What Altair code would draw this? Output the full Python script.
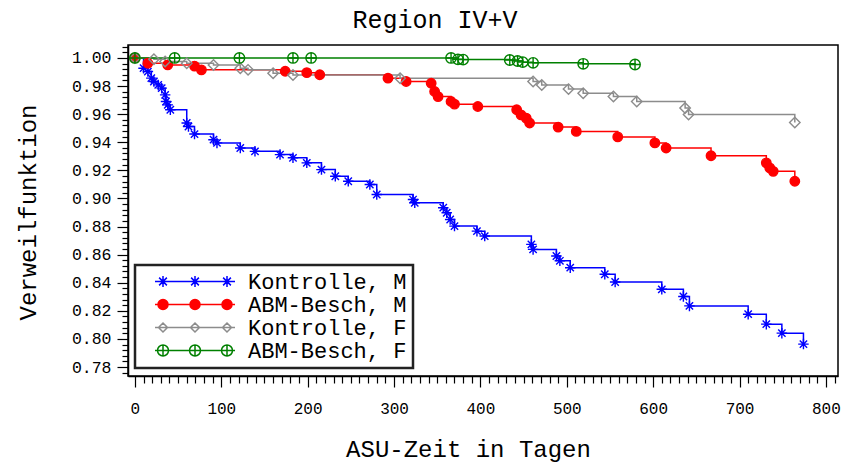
import altair as alt
import pandas as pd

# ---------------- data ----------------
series_names = ["Kontrolle, M", "ABM-Besch, M", "Kontrolle, F", "ABM-Besch, F"]
series_colors = ["#0000ff", "#ff0000", "#8c8c8c", "#008000"]
series_fills = ["transparent", "#ff0000", "transparent", "transparent"]

km_days = [0, 10, 15, 19, 22, 27, 31, 35, 36, 38, 41, 60, 62, 69, 91, 95, 122, 139,
           168, 183, 199, 216, 232, 247, 272, 280, 322, 324, 357, 361, 365, 370, 396,
           405, 459, 461, 488, 492, 504, 544, 556, 610, 635, 642, 710, 731, 749, 774]
km_surv = [1.0, 0.9927, 0.9903, 0.9856, 0.9832, 0.9808, 0.9785, 0.9737, 0.9690, 0.9666,
           0.9631, 0.9537, 0.9512, 0.9458, 0.9418, 0.9395, 0.9359, 0.9335, 0.9312, 0.9289,
           0.9253, 0.9205, 0.9158, 0.9122, 0.9099, 0.9028, 0.8992, 0.8969, 0.8934, 0.8898,
           0.8850, 0.8803, 0.8767, 0.8732, 0.8673, 0.8637, 0.8590, 0.8556, 0.8507, 0.8460,
           0.8405, 0.8353, 0.8302, 0.8235, 0.8176, 0.8105, 0.8041, 0.7963]

am_days = [0, 15, 38, 69, 77, 174, 199, 214, 293, 314, 343, 347, 351, 366, 370, 397,
           442, 447, 453, 457, 490, 511, 559, 602, 615, 667, 731, 735, 739, 764]
am_surv = [1.0, 0.9962, 0.9950, 0.9942, 0.9915, 0.9905, 0.9895, 0.9880, 0.9856, 0.9832,
           0.9820, 0.9761, 0.9725, 0.9690, 0.9671, 0.9654, 0.9631, 0.9595, 0.9572, 0.9537,
           0.9508, 0.9477, 0.9438, 0.9395, 0.9359, 0.9304, 0.9253, 0.9217, 0.9193, 0.9122]

kf_days = [0, 22, 35, 60, 91, 122, 131, 160, 183, 307, 461, 471, 502, 519, 554, 581,
           637, 641, 764]
kf_surv = [1.0, 0.9990, 0.9974, 0.9962, 0.9950, 0.9927, 0.9915, 0.9891, 0.9879, 0.9856,
           0.9832, 0.9808, 0.9778, 0.9749, 0.9725, 0.9690, 0.9643, 0.9598, 0.9541]

af_days = [0, 46, 121, 183, 204, 366, 374, 380, 434, 443, 449, 461, 519, 579]
af_surv = [1.0, 1.0, 1.0, 1.0, 1.0, 1.0, 0.9990, 0.9988, 0.9985, 0.9978, 0.9970, 0.9965,
           0.9958, 0.9953]

x_ticks = list(range(0, 811, 10))
y_ticks = [round(0.776 + 0.004 * i, 3) for i in range(59)]

frames = []
for name, d, s in zip(series_names, [km_days, am_days, kf_days, af_days],
                      [km_surv, am_surv, kf_surv, af_surv]):
    frames.append(pd.DataFrame({"series": name, "day": d, "surv": s}))
df = pd.concat(frames, ignore_index=True)

# ---------------- symbols ----------------
marker_paths = [
    "M-1,0L1,0M0,-1L0,1M-0.7,-0.7L0.7,0.7M-0.7,0.7L0.7,-0.7",
    "M-0.9,0A0.9,0.9,0,1,1,0.9,0A0.9,0.9,0,1,1,-0.9,0Z",
    "M0,-1L1,0L0,1L-1,0Z",
    "M-1,0A1,1,0,1,1,1,0A1,1,0,1,1,-1,0ZM-1,0L1,0M0,-1L0,1",
]


def star(cx, r=0.55):
    d = r * 0.71
    return (f"M{cx - r},0L{cx + r},0M{cx},{-r}L{cx},{r}"
            f"M{cx - d},{-d}L{cx + d},{d}M{cx - d},{d}L{cx + d},{-d}")


def dot(cx, r=0.5):
    return f"M{cx - r},0A{r},{r},0,1,1,{cx + r},0A{r},{r},0,1,1,{cx - r},0Z"


def diamond(cx, r=0.45):
    return f"M{cx},{-r}L{cx + r},0L{cx},{r}L{cx - r},0Z"


def oplus(cx, r=0.55):
    return dot(cx, r) + f"M{cx - r},0L{cx + r},0M{cx},{-r}L{cx},{r}"


def legend_path(fn):
    return "M-4,0L4,0" + "".join(fn(cx) for cx in (-3.2, 0, 3.2))


legend_paths = [legend_path(f) for f in (star, dot, diamond, oplus)]

FONT = "Liberation Mono"

x_scale = alt.Scale(domain=[-8, 814], nice=False, zero=False)
y_scale = alt.Scale(domain=[0.7736, 1.0092], nice=False, zero=False)

x_axis = alt.Axis(
    values=x_ticks,
    labelExpr="datum.value % 100 === 0 ? format(datum.value, 'd') : ''",
    tickSize={"condition": {"test": "datum.value % 100 === 0", "value": 11}, "value": 7},
    labelOverlap=False, labelFont=FONT, labelFontSize=16, labelColor="black",
    labelPadding=13, grid=False, domainColor="black", domainWidth=1.5,
    tickColor="black", tickWidth=1.2,
    title="ASU-Zeit in Tagen", titleFont=FONT, titleFontSize=24,
    titleFontWeight="normal", titleColor="black",
    titleX=340, titleY=73, titleBaseline="middle", titleAlign="center",
)
y_axis = alt.Axis(
    values=y_ticks,
    labelExpr="abs(datum.value * 50 - round(datum.value * 50)) < 0.001 ? format(datum.value, '.2f') : ''",
    tickSize={"condition": {"test": "abs(datum.value * 50 - round(datum.value * 50)) < 0.001",
                            "value": 11}, "value": 6},
    labelOverlap=False, labelFont=FONT, labelFontSize=16.5, labelColor="black",
    labelPadding=6, grid=False, domainColor="black", domainWidth=1.5,
    tickColor="black", tickWidth=1.2,
    title="Verweilfunktion", titleFont=FONT, titleFontSize=24,
    titleFontWeight="normal", titleColor="black",
    titleX=-100, titleY=167, titleBaseline="middle", titleAlign="center", titleAngle=270,
)

X = alt.X("day:Q", scale=x_scale, axis=x_axis)
Y = alt.Y("surv:Q", scale=y_scale, axis=y_axis)

base = alt.Chart(df)

lines = base.mark_line(interpolate="step-after", strokeWidth=1.5).encode(
    x=X, y=Y,
    color=alt.Color("series:N", scale=alt.Scale(domain=series_names, range=series_colors),
                    legend=None),
    order=alt.Order("day:Q"),
)

points = base.mark_point(filled=False, size=110, strokeWidth=1.4, opacity=1).encode(
    x=X, y=Y,
    color=alt.Color("series:N", scale=alt.Scale(domain=series_names, range=series_colors),
                    legend=None),
    fill=alt.Fill("series:N", scale=alt.Scale(domain=series_names, range=series_fills),
                  legend=None),
    shape=alt.Shape("series:N", scale=alt.Scale(domain=series_names, range=marker_paths),
                    legend=None),
)

leg = alt.Legend(title=None, orient="none", legendX=7, legendY=220,
                 labelExpr="datum.label + '\u00a0\u00a0\u00a0\u00a0'", clipHeight=21)

legend_layer = base.transform_filter("false").mark_point(
    filled=False, size=400, strokeWidth=1.5, opacity=1
).encode(
    x=X, y=Y,
    color=alt.Color("series:N", scale=alt.Scale(domain=series_names, range=series_colors),
                    legend=leg),
    fill=alt.Fill("series:N", scale=alt.Scale(domain=series_names, range=series_fills),
                  legend=leg),
    shape=alt.Shape("series:N", scale=alt.Scale(domain=series_names, range=legend_paths),
                    legend=leg),
)

chart = alt.layer(lines, points, legend_layer).resolve_scale(
    color="independent", fill="independent", shape="independent"
).properties(
    width=710, height=331,
    background="white",
    padding={"left": 120, "top": 37, "right": 15, "bottom": 90},
    autosize=alt.AutoSizeParams(type="none"),
    title=alt.TitleParams("Region IV+V", font=FONT, fontSize=25, fontWeight="normal",
                          color="black", anchor="middle", frame="group", dx=-48,
                          offset=5, dy=11, baseline="middle"),
).configure_view(
    stroke="black", strokeWidth=1.5
).configure_legend(
    padding=6, strokeColor="#222222", strokeWidth=2.5, fillColor="white",
    labelFont=FONT, labelFontSize=22, labelColor="black", labelLimit=0,
    symbolSize=400, symbolStrokeWidth=1.5, symbolOffset=43, labelOffset=42,
    rowPadding=0, cornerRadius=0,
)

chart.save("out.html", embed_options={"renderer": "svg", "actions": False})
